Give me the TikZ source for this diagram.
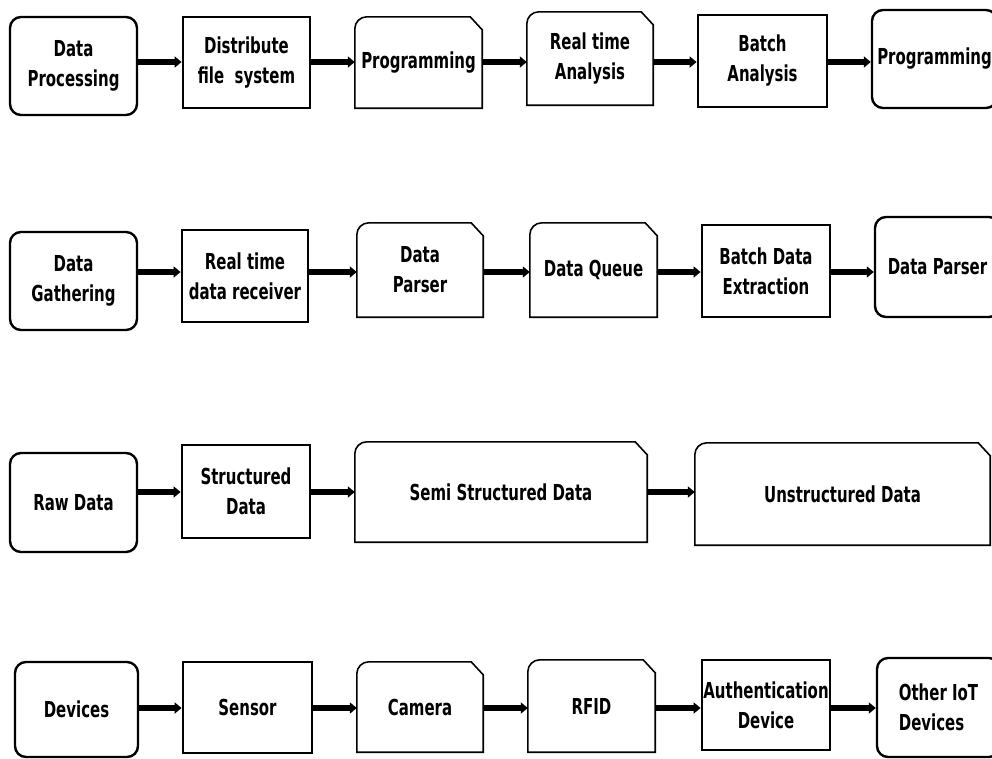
\documentclass[tikz,border=0pt]{standalone}
\usepackage{fontspec}
\setmainfont{DejaVu Sans}[FakeStretch=0.68]
\usetikzlibrary{arrows.meta}

\tikzset{
  txt/.style={font=\bfseries\fontsize{22}{30}\selectfont, align=center, inner sep=0pt},
  roundbox/.style={txt, draw, line width=2.4pt, rounded corners=11pt, fill=white},
  rectbox/.style={txt, draw, line width=2.8pt, fill=white},
  snipbox/.style={txt},
  snipline/.style={draw, line width=1.6pt, fill=white},
  flow/.style={line width=5.5pt, -{Triangle[length=7pt,width=11pt]}}
}

\begin{document}
\begin{tikzpicture}[x=1pt,y=-1pt]
  \useasboundingbox (0,0) rectangle (992,758);

  % row 1
  \node[roundbox, minimum width=127, minimum height=98] (proc) at (73.5,66) {Data\\Processing};
  \node[rectbox, minimum width=127, minimum height=91] (dfs) at (246.5,62.5) {Distribute\\file \ system};
  \node[snipbox, minimum width=127, minimum height=91] (progA) at (418.5,62.5) {};
  \node[snipbox, minimum width=126, minimum height=93] (rta) at (590,58.5) {};
  \node[rectbox, minimum width=129, minimum height=92] (batch) at (762.5,61) {Batch\\Analysis};
  \node[roundbox, minimum width=125, minimum height=98] (progB) at (934.5,59) {Programming};

  % row 2
  \node[roundbox, minimum width=127, minimum height=98] (gath) at (73.5,281) {Data\\Gathering};
  \node[rectbox, minimum width=126, minimum height=92] (rtdr) at (245,276) {Real time\\data receiver};
  \node[snipbox, minimum width=126, minimum height=94] (parsA) at (420,270) {};
  \node[snipbox, minimum width=127, minimum height=94] (queue) at (593.5,270) {};
  \node[rectbox, minimum width=128, minimum height=92] (bde) at (766,271) {Batch Data\\Extraction};
  \node[roundbox, minimum width=125, minimum height=100] (parsB) at (937.5,267) {Data Parser};

  % row 3
  \node[roundbox, minimum width=127, minimum height=99] (raw) at (73.5,502.5) {Raw Data};
  \node[rectbox, minimum width=128, minimum height=93] (struct) at (246,491.5) {Structured\\Data};
  \node[snipbox, minimum width=292, minimum height=100] (semi) at (501,492) {};
  \node[snipbox, minimum width=295, minimum height=102] (unstr) at (842.5,494) {};

  % row 4
  \node[roundbox, minimum width=123, minimum height=95] (dev) at (76.5,709.5) {Devices};
  \node[rectbox, minimum width=129, minimum height=91] (sens) at (247.5,707.5) {Sensor};
  \node[snipbox, minimum width=126, minimum height=90] (cam) at (420,707) {};
  \node[snipbox, minimum width=127, minimum height=92] (rfid) at (591.5,706) {};
  \node[rectbox, minimum width=128, minimum height=90] (auth) at (766,705) {Authentication\\Device};
  \node[roundbox, minimum width=123, minimum height=99, align=left] (other) at (938.5,707.5) {Other IoT\\Devices};

  % cut-corner boxes
  \foreach \n in {progA,rta,parsA,queue,semi,unstr,cam,rfid}
    \draw[snipline] (\n.south west) -- ([yshift=-12pt]\n.north west)
      arc[start angle=180, end angle=90, radius=12pt]
      -- ([xshift=-12pt]\n.north east) -- ([yshift=-13pt]\n.north east)
      -- (\n.south east) -- cycle;
  \node[txt] at (progA) {Programming};
  \node[txt] at (rta) {Real time\\Analysis};
  \node[txt] at (parsA) {Data\\Parser};
  \node[txt] at (queue) {Data Queue};
  \node[txt] at (semi) {Semi Structured Data};
  \node[txt] at (unstr) {Unstructured Data};
  \node[txt] at (cam) {Camera};
  \node[txt] at (rfid) {RFID};

  % arrows
  \foreach \a/\b in {proc/dfs,dfs/progA,progA/rta,rta/batch,batch/progB}
    \draw[flow] (\a.east |- 0,62) -- (\b.west |- 0,62);
  \foreach \a/\b in {gath/rtdr,rtdr/parsA,parsA/queue,queue/bde,bde/parsB}
    \draw[flow] (\a.east |- 0,272) -- (\b.west |- 0,272);
  \foreach \a/\b in {raw/struct,struct/semi,semi/unstr}
    \draw[flow] (\a.east |- 0,492) -- (\b.west |- 0,492);
  \foreach \a/\b in {dev/sens,sens/cam,cam/rfid,rfid/auth,auth/other}
    \draw[flow] (\a.east |- 0,708) -- (\b.west |- 0,708);
\end{tikzpicture}
\end{document}
